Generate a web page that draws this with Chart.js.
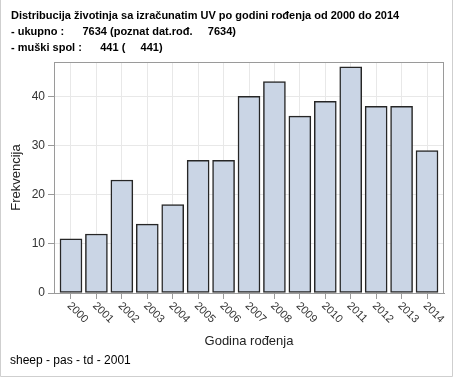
<!DOCTYPE html>
<html><head><meta charset="utf-8">
<script src="https://cdn.jsdelivr.net/npm/chart.js@4/dist/chart.umd.min.js"></script>
<style>html,body{margin:0;padding:0;background:#fff}#wrap{width:454px;height:378px;position:relative}canvas{display:block}</style>
</head><body><div id="wrap"><canvas id="c" width="454" height="378"></canvas></div>
<script>
const categories = ['2000','2001','2002','2003','2004','2005','2006','2007','2008','2009','2010','2011','2012','2013','2014'];
const counts = [11,12,23,14,18,27,27,40,43,36,39,46,38,38,29];
const yTicks = [0,10,20,30,40];
const titleLines = [
  'Distribucija životinja sa izračunatim UV po godini rođenja od 2000 do 2014',
  '- ukupno :      7634 (poznat dat.rođ.     7634)',
  '- muški spol :      441 (     441)'
];
const footerText = 'sheep - pas - td - 2001';
const xTitle = 'Godina rođenja';
const yTitle = 'Frekvencija';

const FONT = 'Arial, "Liberation Sans", sans-serif';

const decor = {
  id: 'decor',
  afterDraw(chart) {
    const ctx = chart.ctx;
    const a = chart.chartArea;
    ctx.save();
    ctx.strokeStyle = '#9a9a9a';
    ctx.lineWidth = 1;
    ctx.strokeRect(Math.round(a.left) + 0.5, Math.round(a.top) + 0.5, Math.round(a.right - a.left) - 1, Math.round(a.bottom - a.top));
    ctx.strokeStyle = '#cfcfcf';
    ctx.beginPath();
    ctx.moveTo(0.5, 0); ctx.lineTo(0.5, 376.5); ctx.lineTo(452.5, 376.5); ctx.lineTo(452.5, 0);
    ctx.stroke();
    ctx.fillStyle = '#000';
    ctx.font = 'bold 11px ' + FONT;
    ctx.textAlign = 'left';
    ctx.textBaseline = 'alphabetic';
    const bases = [19, 35, 51];
    titleLines.forEach((t, i) => ctx.fillText(t, 11, bases[i]));
    ctx.font = '12px ' + FONT;
    ctx.fillStyle = '#000';
    ctx.fillText(footerText, 10, 364);
    const xs = chart.scales.x;
    ctx.font = '11px ' + FONT;
    ctx.fillStyle = '#333';
    ctx.textBaseline = 'middle';
    categories.forEach((c, i) => {
      const px = xs.getPixelForValue(i);
      ctx.save();
      ctx.translate(px - 2, 304);
      ctx.rotate(Math.PI / 4);
      ctx.fillText(c, 0, 0);
      ctx.restore();
    });
    ctx.restore();
  }
};

new Chart(document.getElementById('c'), {
  type: 'bar',
  data: {
    datasets: [{
      data: counts.map((v, i) => ({x: i, y: v})),
      backgroundColor: '#cad5e5',
      borderColor: '#262626',
      borderWidth: 1.5,
      borderSkipped: false,
      barThickness: 22
    }]
  },
  options: {
    responsive: false,
    devicePixelRatio: 1,
    animation: false,
    layout: {padding: {top: 62, left: 0, right: 10, bottom: 0}},
    plugins: {legend: {display: false}, tooltip: {enabled: false}, title: {display: false}},
    scales: {
      x: {
        type: 'linear',
        offset: false,
        min: -0.668, max: 14.668,
        afterBuildTicks: s => { s.ticks = categories.map((_, i) => ({value: i})); },
        afterFit: s => { s.height = 85; },
        grid: {color: '#e8e8e8', tickLength: 6, tickColor: '#9a9a9a', offset: false},
        border: {display: true, color: '#9a9a9a'},
        ticks: {display: false},
        title: {display: true, text: xTitle, font: {size: 13, family: FONT}, color: '#222', padding: {top: 0, bottom: 29}}
      },
      y: {
        min: 0, max: 47,
        afterBuildTicks: s => { s.ticks = yTicks.map(v => ({value: v})); },
        afterFit: s => { s.width = 54; },
        grid: {color: '#e8e8e8', tickLength: 6, tickColor: '#9a9a9a'},
        border: {display: true, color: '#9a9a9a'},
        ticks: {font: {size: 12, family: FONT}, color: '#333', padding: 3},
        title: {display: true, text: yTitle, font: {size: 13, family: FONT}, color: '#222', padding: {top: 9, bottom: 0}}
      }
    }
  },
  plugins: [decor]
});
</script></body></html>
